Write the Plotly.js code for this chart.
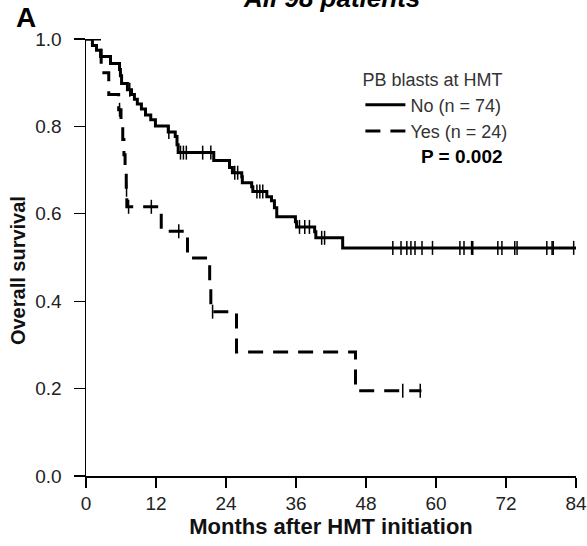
<!DOCTYPE html>
<html>
<head>
<meta charset="utf-8">
<script src="https://cdn.plot.ly/plotly-3.0.1.min.js"></script>
<style>
  html, body { margin: 0; padding: 0; background: #fff; }
  #chart { width: 587px; height: 546px; }
</style>
</head>
<body>
<div id="chart"></div>
<script>
// ---- Data ----
// "No" group (n = 74): event times (months) and survival after each drop
const noTimes = [0, 1.1, 1.8, 2.5, 4.2, 5.75, 5.9, 6.1, 7.1, 7.8, 8.3, 8.8, 9.5, 10.2, 11.1, 11.9,
                 14.1, 15.3, 15.6, 15.8, 21.9, 24.6, 25.1, 26.7, 26.8, 28.4, 28.6, 31.0, 31.8, 32.3,
                 32.7, 35.9, 36.1, 39.2, 39.4, 44.0, 84];
const noSurv  = [1.0, 0.985, 0.974, 0.960, 0.944, 0.930, 0.916, 0.898, 0.884, 0.873, 0.862, 0.851, 0.840, 0.826, 0.815, 0.801,
                 0.787, 0.777, 0.758, 0.740, 0.722, 0.706, 0.694, 0.685, 0.671, 0.662, 0.651, 0.639, 0.630, 0.614,
                 0.593, 0.582, 0.570, 0.559, 0.545, 0.522, 0.522];
const noCensored = [7.5, 14.2, 16.2, 16.7, 17.2, 20.0, 21.4, 25.5, 26.0, 29.3, 29.8, 30.3, 36.6, 37.5, 38.3,
                    40.4, 40.9, 52.6, 54.0, 55.0, 55.7, 56.4, 57.6, 59.4, 64.1, 64.8, 66.1, 66.3, 70.6, 71.3,
                    73.5, 73.9, 79.0, 79.9, 80.1, 83.6];

// "Yes" group (n = 24)
const yesTimes = [0, 2.6, 3.9, 5.6, 6.0, 6.3, 6.5, 6.7, 6.9, 7.0, 12.9, 17.4, 21.2, 21.4, 25.8, 46.2, 57.5];
const yesSurv  = [1.0, 0.923, 0.873, 0.838, 0.804, 0.770, 0.735, 0.701, 0.655, 0.616, 0.560, 0.499, 0.438, 0.376, 0.284, 0.195, 0.195];
const yesCensored = [5.75, 6.95, 7.3, 11.2, 15.9, 21.7, 54.3, 57.3];

const xTicks = [0, 12, 24, 36, 48, 60, 72, 84];
const yTicks = [0, 0.2, 0.4, 0.6, 0.8, 1.0];
const yTickText = ['0.0', '0.2', '0.4', '0.6', '0.8', '1.0'];

const legendTitle = 'PB blasts at HMT';
const groupNames = ['No (n = 74)', 'Yes (n = 24)'];
const pText = 'P = 0.002';

// survival value of a step curve at time t
function stepAt(times, surv, t) {
  let s = surv[0];
  for (let i = 0; i < times.length; i++) { if (times[i] <= t) s = surv[i]; }
  return s;
}

const FONT = 'Arial, "Liberation Sans", Helvetica, sans-serif';

const traces = [
  { x: noTimes, y: noSurv, mode: 'lines', name: groupNames[0],
    line: { shape: 'hv', color: '#000', width: 3 }, hoverinfo: 'skip' },
  { x: yesTimes, y: yesSurv, mode: 'lines', name: groupNames[1],
    line: { shape: 'hv', color: '#000', width: 3, dash: '15px,10px' }, hoverinfo: 'skip' },
  { x: noCensored, y: noCensored.map(t => stepAt(noTimes, noSurv, t)), mode: 'markers', showlegend: false,
    marker: { symbol: 'line-ns-open', size: 10, color: '#000', line: { color: '#000', width: 1.5 } } },
  { x: yesCensored, y: yesCensored.map(t => stepAt(yesTimes, yesSurv, t)), mode: 'markers', showlegend: false,
    marker: { symbol: 'line-ns-open', size: 10, color: '#000', line: { color: '#000', width: 1.5 } } }
];

const layout = {
  width: 587, height: 546,
  margin: { l: 86, r: 11, t: 39, b: 70 },
  paper_bgcolor: '#fff', plot_bgcolor: '#fff',
  font: { family: FONT, color: '#222', size: 19 },
  showlegend: true,
  legend: {
    x: 0.56, y: 0.945, xanchor: 'left', yanchor: 'top',
    bgcolor: 'rgba(0,0,0,0)', borderwidth: 0,
    font: { family: FONT, size: 18, color: '#333' },
    title: { text: legendTitle, font: { family: FONT, size: 18, color: '#333' }, side: 'top' },
    itemwidth: 40, tracegroupgap: 0
  },
  xaxis: {
    range: [0, 84], tickvals: xTicks, ticktext: xTicks.map(String),
    showgrid: false, zeroline: false, showline: true, linecolor: '#000', linewidth: 1.5,
    ticks: 'outside', ticklen: 10, tickwidth: 1.2, tickcolor: '#000',
    tickfont: { family: FONT, size: 19, color: '#222' },
    title: { text: '<b>Months after HMT initiation</b>', font: { family: FONT, size: 22, color: '#111' }, standoff: 3 }
  },
  yaxis: {
    range: [0, 1], tickvals: yTicks, ticktext: yTickText,
    showgrid: false, zeroline: false, showline: true, linecolor: '#000', linewidth: 1.5,
    ticks: 'outside', ticklen: 11, tickwidth: 1.2, tickcolor: '#000', ticklabelstandoff: 8,
    tickfont: { family: FONT, size: 19, color: '#222' }
  },
  annotations: [
    { text: '<b><i>All 98 patients</i></b>', xref: 'paper', yref: 'paper', x: 0.5, y: 1.055,
      xanchor: 'center', yanchor: 'bottom', showarrow: false,
      font: { family: FONT, size: 26, color: '#000' } },
    { text: '<b>A</b>', xref: 'paper', yref: 'paper', x: -0.122, y: 1.05,
      xanchor: 'center', yanchor: 'middle', showarrow: false,
      font: { family: FONT, size: 28, color: '#000' } },
    { text: '<b>Overall survival</b>', xref: 'paper', yref: 'paper', x: -0.139, y: 0.471,
      xanchor: 'center', yanchor: 'middle', textangle: -90, showarrow: false,
      font: { family: FONT, size: 20, color: '#111' } },
    { text: '<b>' + pText + '</b>', xref: 'paper', yref: 'paper', x: 0.68, y: 0.732,
      xanchor: 'left', yanchor: 'middle', showarrow: false,
      font: { family: FONT, size: 19, color: '#000' } }
  ]
};

Plotly.newPlot('chart', traces, layout, { staticPlot: true, displayModeBar: false });
</script>
</body>
</html>
